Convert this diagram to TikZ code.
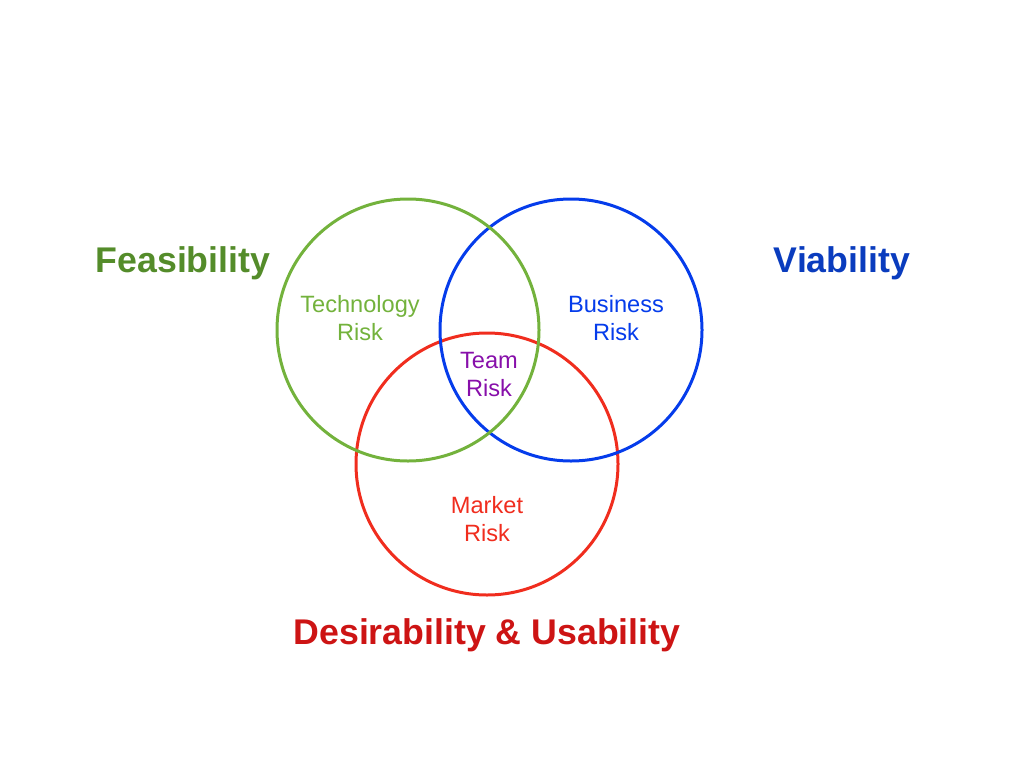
\documentclass[tikz,border=0pt]{standalone}
\usepackage{fontspec}
\setmainfont{Liberation Sans}
\definecolor{cgreen}{RGB}{115,178,60}
\definecolor{cblue}{RGB}{5,60,235}
\definecolor{cred}{RGB}{240,45,30}
\definecolor{tgreen}{RGB}{84,140,42}
\definecolor{tblue}{RGB}{10,60,190}
\definecolor{tred}{RGB}{205,20,20}
\definecolor{tpurple}{RGB}{135,15,170}
\begin{document}
\begin{tikzpicture}[x=1pt,y=-1pt,
  ring/.style={draw=#1,line width=3pt,circle,minimum size=262pt,inner sep=0pt},
  big/.style={font=\fontsize{35.7}{42}\selectfont\bfseries,text=#1},
  small/.style={font=\fontsize{23.6}{28}\selectfont,text=#1,align=center}]
\useasboundingbox (0,0) rectangle (1024,768);
\node[ring=cred] (red) at (487,464) {};
\node[ring=cblue] (blue) at (571,330) {};
\node[ring=cgreen] (green) at (408,330) {};
\node[big=tgreen] (feas) at (183,263) {Feasibility};
\node[big=tblue] (via) at (842,263) {Viability};
\node[big=tred] (des) at (487,635) {Desirability \& Usability};
\node[small=cgreen] (tech) at (360,318) {Technology\\Risk};
\node[small=cblue] (bus) at (616,318) {Business\\Risk};
\node[small=tpurple] (team) at (489,374) {Team\\Risk};
\node[small=cred] (mkt) at (487,519) {Market\\Risk};
\end{tikzpicture}
\end{document}
